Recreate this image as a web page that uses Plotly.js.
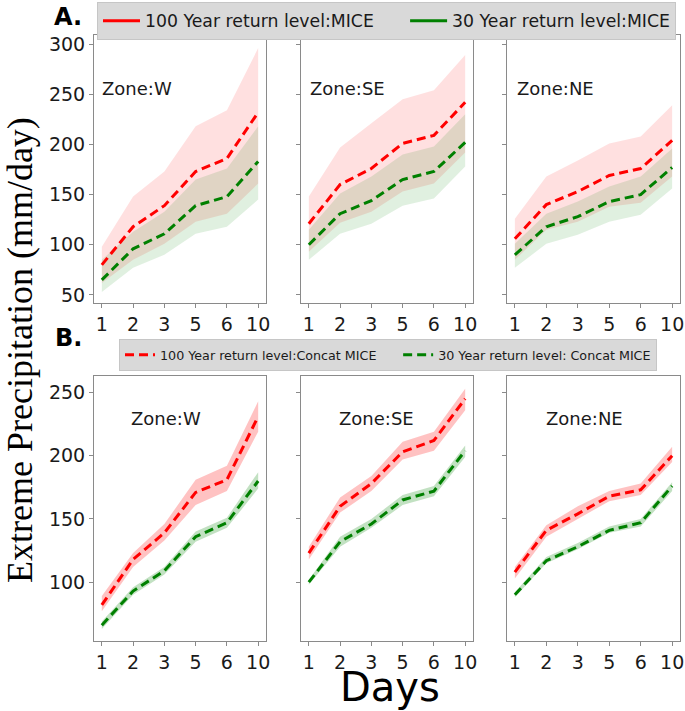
<!DOCTYPE html>
<html>
<head>
<meta charset="utf-8">
<script src="https://cdn.plot.ly/plotly-3.0.1.min.js"></script>
<style>html,body{margin:0;padding:0;background:#fff;}#chart{width:685px;height:711px;}</style>
</head>
<body>
<div id="chart"></div>
<script>
// ---- data ----
const days = ['1', '2', '3', '5', '6', '10'];
const zones = ['W', 'SE', 'NE'];

// Panel A: MICE
const a_W_100 = [80, 118, 139, 173, 186, 232];
const a_W_100_lo = [62, 85, 101, 123, 131, 161];
const a_W_100_hi = [98, 148, 173, 218, 234, 296];
const a_W_30 = [65, 96, 111, 139, 148, 183];
const a_W_30_lo = [53, 77, 90, 111, 118, 145];
const a_W_30_hi = [85, 113, 133, 165, 176, 218];

const a_SE_100 = [121, 160, 176, 201, 209, 242];
const a_SE_100_lo = [93, 122, 133, 153, 161, 192];
const a_SE_100_hi = [148, 197, 221, 245, 254, 289];
const a_SE_30 = [100, 131, 144, 165, 173, 202];
const a_SE_30_lo = [85, 111, 121, 139, 146, 178];
const a_SE_30_hi = [115, 151, 168, 190, 198, 230];

const a_NE_100 = [106, 140, 153, 169, 176, 204];
const a_NE_100_lo = [85, 115, 123, 138, 142, 168];
const a_NE_100_hi = [126, 168, 184, 201, 208, 239];
const a_NE_30 = [90, 118, 128, 143, 150, 177];
const a_NE_30_lo = [77, 101, 110, 123, 130, 156];
const a_NE_30_hi = [101, 131, 143, 158, 168, 196];

// Panel B: Concat MICE
const b_W_100 = [82, 118, 139, 171, 181, 231];
const b_W_100_lo = [77, 112, 133, 161, 172, 219];
const b_W_100_hi = [89, 123, 146, 181, 192, 243];
const b_W_30 = [66, 93, 109, 136, 147, 180];
const b_W_30_lo = [63, 90, 106, 132, 143, 174];
const b_W_30_hi = [69, 96, 112, 140, 151, 187];

const b_SE_100 = [123, 160, 178, 203, 212, 245];
const b_SE_100_lo = [118, 155, 172, 197, 204, 236];
const b_SE_100_hi = [128, 167, 184, 211, 219, 253];
const b_SE_30 = [100, 132, 146, 165, 172, 204];
const b_SE_30_lo = [98, 128, 143, 161, 168, 199];
const b_SE_30_hi = [102, 136, 150, 169, 176, 208];

const b_NE_100 = [108, 141, 154, 168, 173, 200];
const b_NE_100_lo = [103, 136, 150, 164, 169, 195];
const b_NE_100_hi = [112, 145, 160, 172, 178, 207];
const b_NE_30 = [90, 117, 128, 141, 147, 176];
const b_NE_30_lo = [88, 115, 126, 139, 144, 172];
const b_NE_30_hi = [92, 120, 131, 144, 150, 179];

const legendA = ['100 Year return level:MICE', '30 Year return level:MICE'];
const legendB = ['100 Year return level:Concat MICE', '30 Year return level: Concat MICE'];

// ---- build ----
const RED = '#ff0000', GREEN = '#008000';
const panels = [
  {ax: '', d100: a_W_100, lo100: a_W_100_lo, hi100: a_W_100_hi, d30: a_W_30, lo30: a_W_30_lo, hi30: a_W_30_hi, alpha: 0.12},
  {ax: '2', d100: a_SE_100, lo100: a_SE_100_lo, hi100: a_SE_100_hi, d30: a_SE_30, lo30: a_SE_30_lo, hi30: a_SE_30_hi, alpha: 0.12},
  {ax: '3', d100: a_NE_100, lo100: a_NE_100_lo, hi100: a_NE_100_hi, d30: a_NE_30, lo30: a_NE_30_lo, hi30: a_NE_30_hi, alpha: 0.12},
  {ax: '4', d100: b_W_100, lo100: b_W_100_lo, hi100: b_W_100_hi, d30: b_W_30, lo30: b_W_30_lo, hi30: b_W_30_hi, alpha: 0.24},
  {ax: '5', d100: b_SE_100, lo100: b_SE_100_lo, hi100: b_SE_100_hi, d30: b_SE_30, lo30: b_SE_30_lo, hi30: b_SE_30_hi, alpha: 0.24},
  {ax: '6', d100: b_NE_100, lo100: b_NE_100_lo, hi100: b_NE_100_hi, d30: b_NE_30, lo30: b_NE_30_lo, hi30: b_NE_30_hi, alpha: 0.24}
];

// invisible spacer appended to the first legend entry (sets the gap between entries)
const spacer = s => '<span style="color:rgba(0,0,0,0)">' + s + '</span>';
const traces = [];
const dashStyle = '9px,5px';
panels.forEach((p, i) => {
  const xa = 'x' + p.ax, ya = 'y' + p.ax;
  const band = (lo, hi, rgb) => {
    traces.push({x: days, y: lo, xaxis: xa, yaxis: ya, type: 'scatter', mode: 'lines',
      line: {width: 0, color: 'rgba(0,0,0,0)'}, showlegend: false, hoverinfo: 'skip'});
    traces.push({x: days, y: hi, xaxis: xa, yaxis: ya, type: 'scatter', mode: 'lines',
      line: {width: 0, color: 'rgba(0,0,0,0)'}, fill: 'tonexty',
      fillcolor: 'rgba(' + rgb + ',' + p.alpha + ')', showlegend: false, hoverinfo: 'skip'});
  };
  band(p.lo100, p.hi100, '255,0,0');
  band(p.lo30, p.hi30, '0,128,0');
  traces.push({x: days, y: p.d100, xaxis: xa, yaxis: ya, type: 'scatter', mode: 'lines',
    line: {color: RED, width: 3, dash: dashStyle}, name: legendB[0] + spacer('__.'),
    showlegend: i === 3, legend: 'legend2'});
  traces.push({x: days, y: p.d30, xaxis: xa, yaxis: ya, type: 'scatter', mode: 'lines',
    line: {color: GREEN, width: 3, dash: dashStyle}, name: legendB[1],
    showlegend: i === 3, legend: 'legend2'});
});
// legend-only entries for panel A (solid lines in legend)
traces.push({x: [null], y: [null], xaxis: 'x', yaxis: 'y', type: 'scatter', mode: 'lines',
  line: {color: RED, width: 3}, name: legendA[0] + spacer('___'), showlegend: true, legend: 'legend'});
traces.push({x: [null], y: [null], xaxis: 'x', yaxis: 'y', type: 'scatter', mode: 'lines',
  line: {color: GREEN, width: 3}, name: legendA[1], showlegend: true, legend: 'legend'});

const W = 685, H = 711;
const cols = [[94, 266], [301, 473], [507, 680]];
const rows = [[35, 303], [376, 641]];
const yRanges = [[42, 309], [53.5, 263]];
const tickFont = {family: 'DejaVu Sans', size: 19, color: '#1a1a1a'};
const layout = {
  width: W, height: H,
  margin: {l: 0, r: 0, t: 0, b: 0},
  paper_bgcolor: '#ffffff', plot_bgcolor: '#ffffff',
  font: {family: 'DejaVu Sans', color: '#1a1a1a'},
  annotations: [],
  legend: {
    x: 97 / W, y: 1 - 2 / H, xanchor: 'left', yanchor: 'top', orientation: 'h',
    traceorder: 'normal', itemwidth: 37,
    bgcolor: '#d9d9d9', bordercolor: '#c6c6c6', borderwidth: 1,
    font: {family: 'DejaVu Sans', size: 17.3, color: '#1a1a1a'}
  },
  legend2: {
    x: 119 / W, y: 1 - 339 / H, xanchor: 'left', yanchor: 'top', orientation: 'h',
    traceorder: 'normal', itemwidth: 30,
    bgcolor: '#d9d9d9', bordercolor: '#c6c6c6', borderwidth: 1,
    font: {family: 'DejaVu Sans', size: 12.7, color: '#1a1a1a'}
  }
};
for (let r = 0; r < 2; r++) {
  for (let c = 0; c < 3; c++) {
    const n = r * 3 + c + 1;
    const sfx = n === 1 ? '' : String(n);
    layout['xaxis' + sfx] = {
      domain: [cols[c][0] / W, cols[c][1] / W], anchor: 'y' + sfx,
      type: 'category', range: [-0.25, 5.25],
      showline: true, mirror: true, linecolor: '#8a8a8a', linewidth: 1,
      ticks: 'outside', ticklen: 4, tickcolor: '#8a8a8a', showgrid: false, zeroline: false,
      tickfont: tickFont, fixedrange: true
    };
    layout['yaxis' + sfx] = {
      domain: [1 - rows[r][1] / H, 1 - rows[r][0] / H], anchor: 'x' + sfx,
      range: yRanges[r], dtick: 50, tick0: 0,
      showline: true, mirror: true, linecolor: '#8a8a8a', linewidth: 1,
      ticks: 'outside', ticklen: 4, tickcolor: '#8a8a8a', showgrid: false, zeroline: false,
      showticklabels: c === 0, tickfont: tickFont, fixedrange: true
    };
  }
}
// zone labels
const zonePosA = [[0.035, 0.80], [0.04, 0.80], [0.046, 0.80]];
const zonePosB = [[0.42, 0.84], [0.44, 0.84], [0.45, 0.84]];
zones.forEach((z, c) => {
  const sA = c === 0 ? '' : String(c + 1);
  const sB = String(c + 4);
  layout.annotations.push({text: 'Zone:' + z, xref: 'x' + sA + ' domain', yref: 'y' + sA + ' domain',
    x: zonePosA[c][0], y: zonePosA[c][1], xanchor: 'left', yanchor: 'middle', showarrow: false,
    font: {family: 'DejaVu Sans', size: 18, color: '#1a1a1a'}});
  layout.annotations.push({text: 'Zone:' + z, xref: 'x' + sB + ' domain', yref: 'y' + sB + ' domain',
    x: zonePosB[c][0], y: zonePosB[c][1], xanchor: 'center', yanchor: 'middle', showarrow: false,
    font: {family: 'DejaVu Sans', size: 18, color: '#1a1a1a'}});
});
// panel letters and shared titles
layout.annotations.push({text: '<b>A.</b>', xref: 'paper', yref: 'paper', x: 68 / W, y: 1 - 17 / H,
  xanchor: 'center', yanchor: 'middle', showarrow: false, font: {family: 'DejaVu Sans', size: 24, color: '#000'}});
layout.annotations.push({text: '<b>B.</b>', xref: 'paper', yref: 'paper', x: 68 / W, y: 1 - 338 / H,
  xanchor: 'center', yanchor: 'middle', showarrow: false, font: {family: 'DejaVu Sans', size: 24, color: '#000'}});
layout.annotations.push({text: 'Extreme Precipitation (mm/day)', xref: 'paper', yref: 'paper',
  x: 20 / W, y: 1 - 350 / H, xanchor: 'center', yanchor: 'middle', textangle: -90, showarrow: false,
  font: {family: 'Liberation Serif', size: 36, color: '#000'}});
layout.annotations.push({text: 'Days', xref: 'paper', yref: 'paper',
  x: 390 / W, y: 1 - 687 / H, xanchor: 'center', yanchor: 'middle', showarrow: false,
  font: {family: 'DejaVu Sans', size: 40, color: '#000'}});

Plotly.newPlot('chart', traces, layout, {staticPlot: true, displayModeBar: false});
</script>
</body>
</html>
